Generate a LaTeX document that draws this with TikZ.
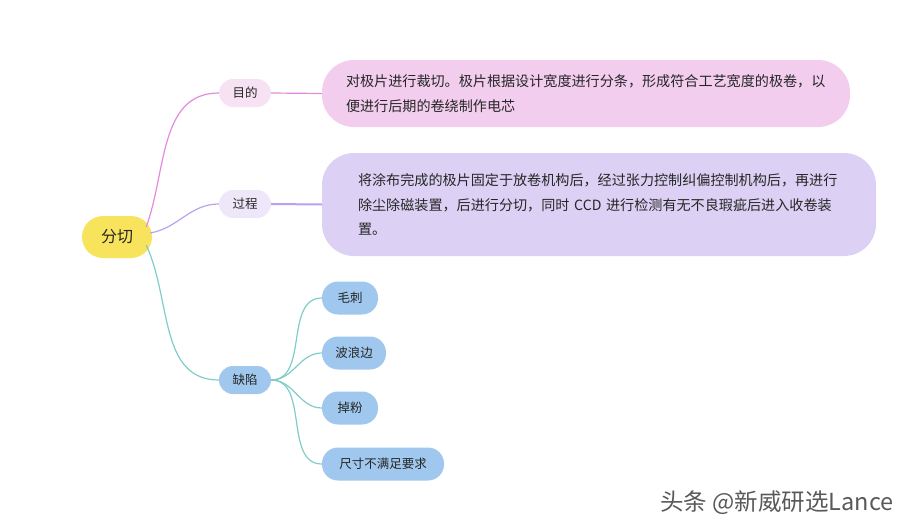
\documentclass[tikz,border=0pt]{standalone}
\usepackage{fontspec}
\setmainfont{Noto Sans CJK SC}
\usetikzlibrary{positioning}
\definecolor{rootc}{HTML}{F7E35C}
\definecolor{pinkl}{HTML}{E48ADB}
\definecolor{pinkf}{HTML}{F7E2F4}
\definecolor{pinkb}{HTML}{F2CDEE}
\definecolor{purl}{HTML}{B8A2F0}
\definecolor{purf}{HTML}{EEE7F9}
\definecolor{purb}{HTML}{DCD1F4}
\definecolor{tealc}{HTML}{80CCC6}
\definecolor{bluef}{HTML}{A0C8EE}
\tikzset{
  topic/.style={rounded corners=14pt, minimum height=28pt, minimum width=52pt, inner xsep=12pt, font=\fontsize{12.5}{14}\selectfont, text=black!85},
  leaf/.style={topic, fill=bluef, minimum height=33pt, rounded corners=16pt},
  textbox/.style={rounded corners=32pt, align=left, font=\fontsize{14.1}{24.5}\selectfont, text=black!85},
}
\begin{document}
\begin{tikzpicture}[x=1pt,y=-1pt]
  \useasboundingbox (0,0) rectangle (916,530);

  % root
  \node[topic, fill=rootc, minimum width=70pt, minimum height=42pt, rounded corners=21pt, font=\fontsize{16}{18}\selectfont] (root) at (117,237) {分切};

  % branches
  \node[topic, fill=pinkf] (mudi) at (245,93) {目的};
  \node[topic, fill=purf] (guocheng) at (245,204) {过程};
  \node[topic, fill=bluef] (quexian) at (245,380) {缺陷};

  % descriptions
  \node[textbox, fill=pinkb, minimum height=67pt, text width=480pt, inner xsep=24pt] (zweck) at (586,93.5) {对极片进行裁切。极片根据设计宽度进行分条，形成符合工艺宽度的极卷，以\\便进行后期的卷绕制作电芯};
  \node[textbox, fill=purb, minimum height=103pt, text width=482pt, inner xsep=36pt] (ablauf) at (599,204.5) {将涂布完成的极片固定于放卷机构后，经过张力控制纠偏控制机构后，再进行\\除尘除磁装置，后进行分切，同时 CCD 进行检测有无不良瑕疵后进入收卷装\\置。};

  % defects
  \node[leaf, minimum width=56pt] (maoci) at (350,298) {毛刺};
  \node[leaf, minimum width=64pt] (bolang) at (354,353) {波浪边};
  \node[leaf, minimum width=56pt] (diaofen) at (350,408) {掉粉};
  \node[leaf, minimum width=122pt] (chicun) at (383,464) {尺寸不满足要求};

  % connectors
  \draw[pinkl, line width=1.2pt] (root.east) ++(-6,-10) coordinate (r1) to[out=70,in=180] (mudi.west);
  \draw[pinkl, line width=1.2pt] (mudi.east) -- (zweck.west);
  \draw[purl, line width=1.2pt] (root.east) ++(-2,-4) coordinate (r2) to[out=10,in=180] (guocheng.west);
  \draw[purl, line width=2pt] (guocheng.east) -- (ablauf.west);
  \draw[tealc, line width=1.2pt] (root.east) ++(-6,8) coordinate (r3) to[out=-65,in=180] (quexian.west);
  \foreach \n in {maoci,bolang,diaofen,chicun}
    \draw[tealc, line width=1.2pt] (quexian.east) to[out=0,in=180] (\n.west);

  % watermark
  \node[text=black!65, font=\fontsize{23.5}{25}\selectfont] (mark) at (777,503) {头条 @新威研选Lance};
\end{tikzpicture}
\end{document}
